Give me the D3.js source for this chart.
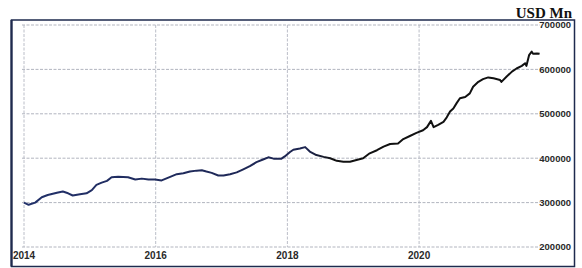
<!DOCTYPE html>
<html>
<head>
<meta charset="utf-8">
<script src="https://cdn.jsdelivr.net/npm/d3@7"></script>
<style>
  html, body { margin: 0; padding: 0; background: #fff; }
  svg { display: block; }
</style>
</head>
<body>
<svg id="chart" width="582" height="268"></svg>
<script>
// ---- Data ----
const years = [
  2014.00, 2014.07, 2014.17, 2014.27, 2014.36, 2014.50, 2014.59, 2014.67, 2014.74, 2014.85,
  2014.95, 2015.03, 2015.10, 2015.18, 2015.26, 2015.33, 2015.43, 2015.58, 2015.69, 2015.79,
  2015.89, 2015.99, 2016.09, 2016.22, 2016.32, 2016.42, 2016.52, 2016.62, 2016.70, 2016.77,
  2016.85, 2016.95, 2017.03, 2017.13, 2017.23, 2017.33, 2017.43, 2017.53, 2017.63, 2017.71,
  2017.79, 2017.91, 2017.96, 2018.04, 2018.09, 2018.19, 2018.27, 2018.34, 2018.44, 2018.55,
  2018.65, 2018.75, 2018.85, 2018.95, 2019.05, 2019.15, 2019.25, 2019.36, 2019.46, 2019.56,
  2019.68, 2019.76, 2019.86, 2019.96, 2020.06, 2020.12, 2020.18, 2020.22, 2020.29, 2020.37,
  2020.42, 2020.47, 2020.52, 2020.57, 2020.62, 2020.70, 2020.77, 2020.82, 2020.90, 2020.97,
  2021.05, 2021.13, 2021.23, 2021.25, 2021.33, 2021.41, 2021.48, 2021.56, 2021.61, 2021.63,
  2021.67, 2021.71, 2021.73, 2021.79, 2021.83
];
const values = [
  300000, 295000, 300000, 312000, 317000, 322000, 325000, 321000, 316000, 319000,
  321000, 328000, 340000, 345000, 349000, 357000, 358000, 357000, 352000, 354000,
  352000, 352000, 350000, 358000, 364000, 366000, 370000, 372000, 373000, 370000,
  367000, 361000, 361000, 364000, 368000, 375000, 382000, 391000, 397000, 402000,
  399000, 399000, 404000, 414000, 419000, 422000, 425000, 415000, 407000, 403000,
  400000, 394000, 392000, 392000, 396000, 400000, 411000, 418000, 426000, 432000,
  433000, 443000, 450000, 457000, 463000, 470000, 484000, 470000, 475000, 482000,
  492000, 505000, 512000, 524000, 535000, 538000, 546000, 561000, 572000, 578000,
  582000, 580000, 576000, 572000, 584000, 595000, 602000, 608000, 614000, 608000,
  632000, 640000, 635000, 636000, 635000
];
const xTicks = [2014, 2016, 2018, 2020];
const yTicks = [200000, 300000, 400000, 500000, 600000, 700000];
const unitLabel = "USD Mn";

// ---- Drawing ----
const svg = d3.select("#chart");

const x = d3.scaleLinear().domain([2014, 2022]).range([24, 550.8]);
const y = d3.scaleLinear().domain([200000, 700000]).range([247, 25]);
const plotRight = 540;

// outer frame
svg.append("rect")
  .attr("x", 11.5).attr("y", 20).attr("width", 563).attr("height", 246.5)
  .attr("fill", "none").attr("stroke", "#1e2a4e").attr("stroke-width", 1.5);
svg.append("line")
  .attr("x1", 11.5).attr("x2", 11.5).attr("y1", 20).attr("y2", 266.5)
  .attr("stroke", "#1e2a4e").attr("stroke-width", 2.2);

// horizontal grid
svg.append("g").selectAll("line").data(yTicks).join("line")
  .attr("x1", x(2014) - 2).attr("x2", plotRight)
  .attr("y1", d => y(d)).attr("y2", d => y(d))
  .attr("stroke", "#a9adb8").attr("stroke-width", 0.9)
  .attr("stroke-dasharray", "3,1.5");

// vertical grid
svg.append("g").selectAll("line").data(xTicks).join("line")
  .attr("x1", d => x(d)).attr("x2", d => x(d))
  .attr("y1", y(700000)).attr("y2", y(200000))
  .attr("stroke", "#b3b7c2").attr("stroke-width", 0.9)
  .attr("stroke-dasharray", "3,1.5");

// y labels (right)
svg.append("g").selectAll("text").data(yTicks).join("text")
  .attr("x", 571).attr("y", d => y(d))
  .attr("dy", "0.35em")
  .attr("text-anchor", "end")
  .attr("font-family", "Liberation Sans, Arial, sans-serif")
  .attr("font-size", 9.5).attr("font-weight", "bold")
  .attr("fill", "#2a2a2a")
  .text(d => d3.format("d")(d));

// x labels
svg.append("g").selectAll("text").data(xTicks).join("text")
  .attr("x", d => x(d)).attr("y", 258.5)
  .attr("text-anchor", "middle")
  .attr("font-family", "Liberation Sans, Arial, sans-serif")
  .attr("font-size", 10).attr("font-weight", "bold")
  .attr("fill", "#2a2a2a")
  .text(d => d);

// unit label
svg.append("text")
  .attr("x", 572).attr("y", 17.5)
  .attr("text-anchor", "end")
  .attr("font-family", "Liberation Serif, Times New Roman, serif")
  .attr("font-size", 15).attr("font-weight", "bold")
  .attr("fill", "#111")
  .text(unitLabel);

// line gradient (navy early, black later)
const defs = svg.append("defs");
const grad = defs.append("linearGradient")
  .attr("id", "lineGrad")
  .attr("gradientUnits", "userSpaceOnUse")
  .attr("x1", x(2014)).attr("x2", x(2022)).attr("y1", 0).attr("y2", 0);
grad.append("stop").attr("offset", "0%").attr("stop-color", "#22316a");
grad.append("stop").attr("offset", ((x(2018.3) - x(2014)) / (x(2022) - x(2014)) * 100) + "%").attr("stop-color", "#1d2550");
grad.append("stop").attr("offset", ((x(2018.7) - x(2014)) / (x(2022) - x(2014)) * 100) + "%").attr("stop-color", "#111");
grad.append("stop").attr("offset", "100%").attr("stop-color", "#111");

const data = years.map((yr, i) => ({ yr, v: values[i] }));
const line = d3.line().x(d => x(d.yr)).y(d => y(d.v));
svg.append("path")
  .datum(data)
  .attr("d", line)
  .attr("fill", "none")
  .attr("stroke", "url(#lineGrad)")
  .attr("stroke-width", 2)
  .attr("stroke-linejoin", "round");
</script>
</body>
</html>
